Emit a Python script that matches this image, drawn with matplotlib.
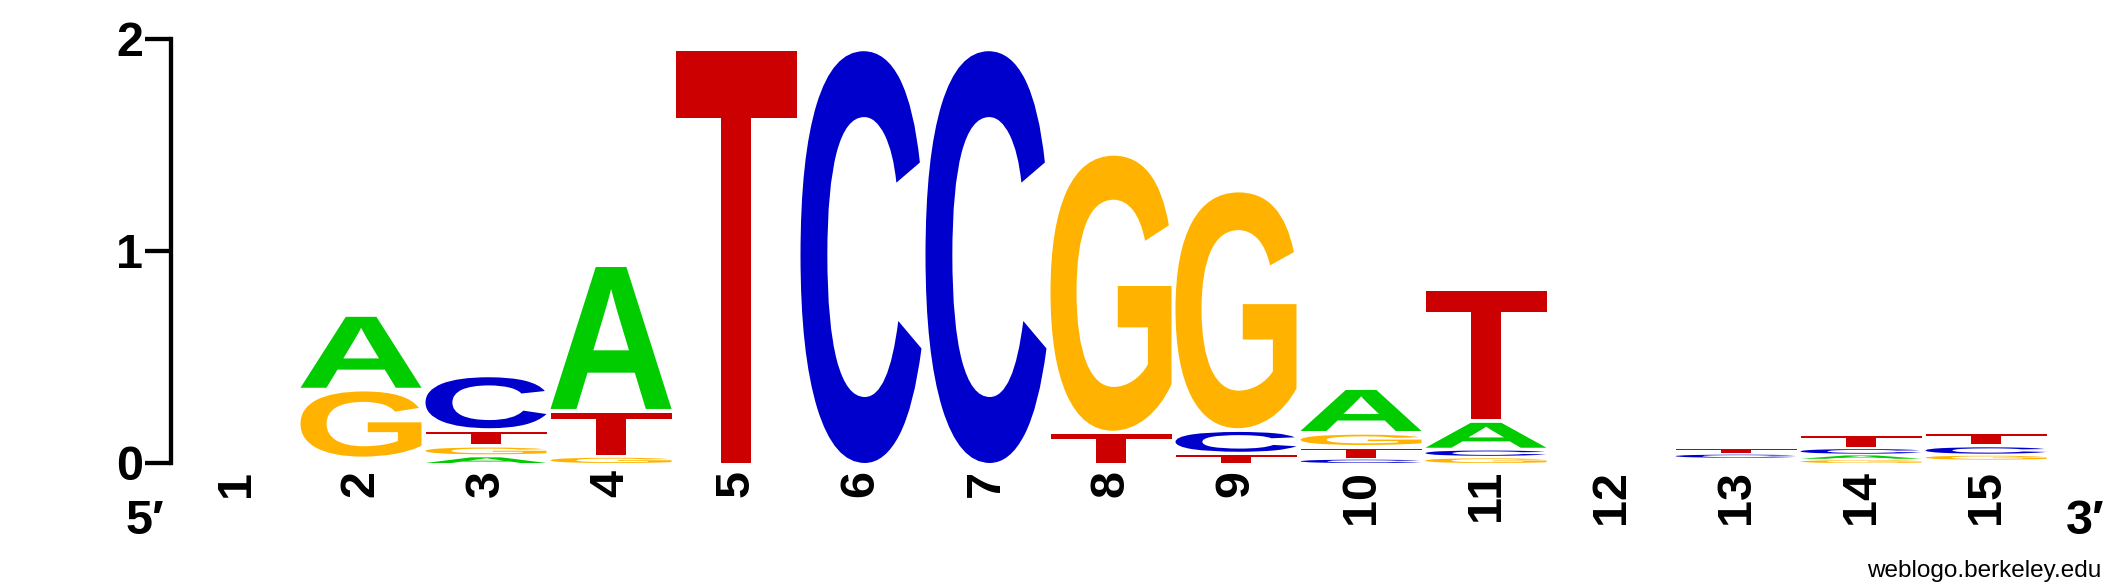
import matplotlib
matplotlib.use("Agg")
import matplotlib.pyplot as plt
from matplotlib.font_manager import FontProperties
from matplotlib.patches import PathPatch
from matplotlib.textpath import TextPath
from matplotlib.transforms import Affine2D

# ── data: letter heights (bits) per position ──────────────────────────────
positions = list(range(1, 16))
bits_A = [0, 0.352, 0.041, 0.687, 0, 0, 0, 0, 0, 0.211, 0.135, 0, 0.012, 0.024, 0.016]
bits_C = [0, 0.013, 0.258, 0, 0, 1.96, 1.96, 0, 0.111, 0.024, 0.038, 0, 0.022, 0.033, 0.046]
bits_G = [0, 0.325, 0.049, 0.038, 0, 0, 0, 1.315, 1.13, 0.066, 0.034, 0, 0.013, 0.020, 0.028]
bits_T = [0, 0.017, 0.074, 0.217, 1.96, 0, 0, 0.152, 0.053, 0.061, 0.621, 0, 0.030, 0.066, 0.063]

COLORS = {"A": "#00CC00", "C": "#0000CC", "G": "#FFB300", "T": "#CC0000"}
COL_W = 0.968
GAP = 0.0175
MIN_DRAW = 0.018   # letters thinner than this don't show up in the logo

plt.rcParams["font.family"] = ["Liberation Sans", "DejaVu Sans"]

glyph_font = FontProperties(family="Liberation Sans", weight="bold")
GLYPHS = {b: TextPath((0, 0), b, size=1, prop=glyph_font) for b in "ACGT"}


def draw_letter(ax, letter, x, y0, h):
    path = GLYPHS[letter]
    bb = path.get_extents()
    tr = (Affine2D().translate(-bb.x0, -bb.y0)
          .scale(COL_W / bb.width, h / bb.height)
          .translate(x - COL_W / 2, y0))
    ax.add_patch(PathPatch(tr.transform_path(path), facecolor=COLORS[letter],
                           edgecolor="none"))


W, H = 2125, 588
fig = plt.figure(figsize=(W / 100, H / 100), dpi=100)
ax = fig.add_axes([171 / W, 125 / H, 1877.5 / W, 424 / H])
ax.set_xlim(0.48, 15.5)
ax.set_ylim(0, 2)

for i, pos in enumerate(positions):
    stack = [("A", bits_A[i]), ("C", bits_C[i]), ("G", bits_G[i]), ("T", bits_T[i])]
    stack = sorted([s for s in stack if s[1] > 0], key=lambda s: s[1])
    y = 0.0
    for letter, h in stack:
        if h >= MIN_DRAW:
            draw_letter(ax, letter, pos, y, h - min(GAP, 0.35 * h))
        y += h

for side in ["top", "right", "bottom"]:
    ax.spines[side].set_visible(False)
ax.spines["left"].set_linewidth(3.1)

ax.set_yticks([0, 1, 2])
ax.set_yticklabels(["0", "1", "2"], fontsize=35, fontweight="bold")
ax.tick_params(axis="y", length=18.7, width=3.1, pad=1.5)

ax.set_xticks(positions)
ax.set_xticklabels([str(p) for p in positions], fontsize=35, fontweight="bold",
                   rotation=90)
ax.tick_params(axis="x", length=0, pad=5)

fig.text(145 / W, 1 - 521 / H, "5\u2032", ha="center", va="center",
         fontsize=35, fontweight="bold")
fig.text(2085 / W, 1 - 521 / H, "3\u2032", ha="center", va="center",
         fontsize=35, fontweight="bold")
fig.text(2101 / W, 1 - 577 / H, "weblogo.berkeley.edu", ha="right",
         va="baseline", fontsize=17.5)

fig.savefig("out.png", dpi=100)
